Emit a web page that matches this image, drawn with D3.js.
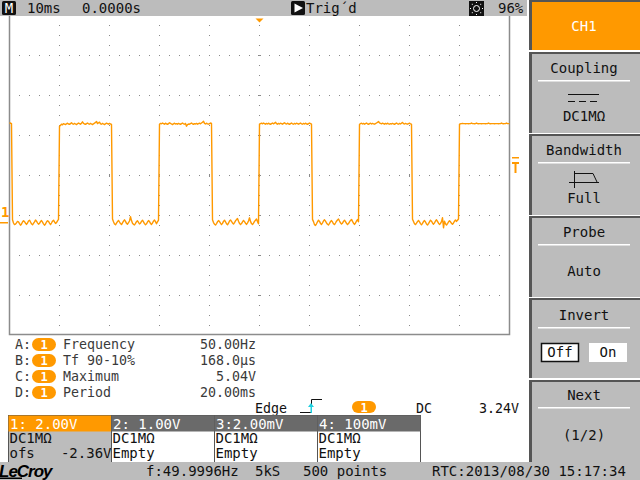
<!DOCTYPE html>
<html><head><meta charset="utf-8">
<script src="https://cdn.jsdelivr.net/npm/d3@7"></script>
<style>
body{margin:0;background:#fff;}
svg{display:block;}
text{font-family:"DejaVu Sans Mono","Liberation Mono",monospace;font-size:13.3px;}
</style>
</head><body>
<svg id="c" width="640" height="480"></svg>
<script>
// ---------- DATA ----------
const timebaseLabel = "10ms";
const delayLabel = "0.0000s";
const trigStateLabel = "Trig´d";
const brightnessLabel = "96%";
const msPerDiv = 10;
const voltsPerDiv = 2.0;
const offsetVolts = -2.36;
const sampleMs = 0.2;
const startMs = -50;
const trigLevelVolts = 3.24;

// trace samples (V), segment by segment
const seg0High = [4.95, 4.96, 4.93];
const seg1Low = [
 0.12,-0.04,-0.12,-0.10,-0.03, 0.04, 0.02,-0.07,-0.15,-0.09,
 0.01, 0.07, 0.03,-0.05,-0.11,-0.04, 0.06, 0.10, 0.01,-0.08,
-0.13,-0.06, 0.02, 0.11, 0.05,-0.03,-0.10,-0.06, 0.03, 0.08,
 0.00,-0.08,-0.15,-0.09, 0.01, 0.07, 0.04,-0.05,-0.12,-0.04,
 0.05, 0.10, 0.02,-0.06,-0.02, 0.07, 0.14];
const seg2High = [
 4.80, 4.84, 4.90, 4.87, 4.93, 4.90, 4.88, 4.92, 4.95, 4.91,
 4.89, 4.93, 4.97, 4.92, 4.90, 4.94, 4.91, 4.88, 4.92, 4.96,
 4.93, 4.90, 4.95, 5.02, 4.94, 4.91, 4.89, 4.93, 4.96, 4.92,
 4.90, 4.94, 4.91, 4.88, 4.92, 4.95, 4.99, 5.04, 4.93, 4.97,
 5.00, 4.92, 4.90, 4.94, 4.91, 4.88, 4.92, 4.95, 4.93, 4.90,
 4.94, 4.91, 4.89];
const seg3Low = [
 0.16, 0.02,-0.09,-0.13,-0.05, 0.03, 0.09, 0.01,-0.07,-0.12,
-0.03, 0.05, 0.12, 0.04,-0.06,-0.10,-0.02, 0.06, 0.28, 0.08,
-0.05,-0.11,-0.14,-0.06, 0.03, 0.07,-0.01,-0.09,-0.05, 0.04,
 0.10, 0.02,-0.07,-0.13,-0.08, 0.01, 0.08, 0.03,-0.06,-0.11,
-0.04, 0.05, 0.11, 0.03,-0.08, 0.02, 0.10];
const seg4High = [
 4.90, 4.94, 4.92, 4.96, 4.93, 4.90, 4.95, 4.92, 4.89, 4.93,
 4.97, 4.94, 4.91, 4.88, 4.92, 4.95, 4.91, 4.93, 4.90, 4.94,
 4.92, 4.89, 4.93, 4.96, 4.92, 4.90, 4.94, 4.80, 4.88, 4.91,
 4.90, 4.93, 4.96, 4.92, 4.89, 4.93, 4.91, 4.94, 4.90, 4.93,
 4.95, 4.92, 4.96, 5.00, 5.05, 4.94, 4.91, 4.95, 4.92, 4.90,
 4.93, 4.96, 4.94];
const seg5Low = [
 0.12,-0.02,-0.10,-0.14,-0.07, 0.02, 0.08, 0.03,-0.05,-0.12,
-0.06, 0.04, 0.10, 0.02,-0.08,-0.13,-0.05, 0.06, 0.11, 0.04,
-0.04,-0.09,-0.02, 0.07, 0.13, 0.18, 0.05,-0.06,-0.12,-0.07,
 0.02, 0.09, 0.03,-0.05,-0.11,-0.03, 0.06, 0.22, 0.04,-0.07,
-0.12,-0.05, 0.04, 0.10, 0.16, 0.03,-0.08];
const seg6High = [
 4.90, 4.93, 4.95, 4.92, 4.96, 4.93, 4.90, 4.94, 4.91, 4.95,
 4.92, 4.89, 4.93, 4.96, 4.92, 4.95, 5.00, 4.93, 4.90, 4.94,
 4.91, 4.95, 4.93, 4.90, 4.94, 4.97, 4.93, 4.91, 4.95, 4.92,
 4.89, 4.93, 4.96, 4.92, 4.90, 4.94, 4.91, 4.95, 4.93, 4.90,
 4.93, 4.96, 4.92, 4.90, 4.94, 4.91, 4.95, 4.92, 4.89, 4.93,
 4.96, 4.93, 4.90];
const seg7Low = [
 0.14, 0.03,-0.12,-0.16,-0.08, 0.02, 0.10, 0.04,-0.06,-0.11,
-0.03, 0.06, 0.12, 0.05,-0.04,-0.10,-0.14,-0.06, 0.03, 0.08,
 0.01,-0.08,-0.12,-0.04, 0.05, 0.11, 0.16, 0.06,-0.03,-0.09,
-0.05, 0.04, 0.10, 0.03,-0.06,-0.12,-0.07, 0.02, 0.09, 0.14,
 0.04,-0.05,-0.11,-0.04, 0.06, 0.13, 0.02];
const seg8High = [
 4.88, 4.93, 4.95, 4.91, 4.94, 4.90, 4.93, 4.96, 4.92, 4.89,
 4.93, 4.95, 4.91, 4.94, 4.92, 4.90, 4.93, 4.96, 4.99, 5.04,
 4.97, 4.94, 4.92, 4.95, 4.93, 4.90, 4.94, 4.91, 4.95, 4.92,
 4.90, 4.93, 4.91, 4.94, 4.92, 4.89, 4.93, 4.96, 4.92, 4.90,
 4.94, 4.91, 4.95, 4.99, 4.93, 4.91, 4.94, 4.92, 4.90, 4.93,
 4.95, 4.92, 4.90];
const seg9Low = [
 0.15, 0.04,-0.08,-0.12,-0.05, 0.03, 0.09, 0.02,-0.07,-0.13,
-0.06, 0.03, 0.08, 0.01,-0.09,-0.14,-0.07, 0.02, 0.10, 0.05,
-0.04,-0.10,-0.03, 0.06, 0.12, 0.04,-0.05,-0.11,-0.06, 0.03,
 0.22,-0.28, 0.05,-0.08,-0.14,-0.07, 0.01, 0.07, 0.02,-0.06,
-0.10,-0.04, 0.05, 0.11, 0.04, 0.10, 0.16];
const seg10High = [
 4.90, 4.92, 4.93, 4.94, 4.93, 4.93, 4.92, 4.93, 4.93, 4.92,
 4.93, 4.93, 4.96, 4.93, 4.93, 4.92, 4.93, 4.96, 4.93, 4.92,
 4.93, 4.93, 4.92, 4.93, 4.93, 4.93, 4.92, 4.93, 4.93, 4.96,
 4.93, 4.92, 4.93, 4.93, 4.93, 4.92, 4.93, 4.93, 4.93, 4.92,
 4.93, 4.93, 4.96, 4.93, 4.92, 4.93, 4.93, 4.96, 4.93, 4.93,
 4.93];
const traceVolts = [].concat(seg0High, seg1Low, seg2High, seg3Low, seg4High,
  seg5Low, seg6High, seg7Low, seg8High, seg9Low, seg10High);

const measLetters = ["A", "B", "C", "D"];
const measNames = ["Frequency", "Tf 90-10%", "Maximum", "Period"];
const measValues = ["50.00Hz", "168.0µs", "5.04V", "20.00ms"];

const chanHeaders = ["1: 2.00V", "2: 1.00V", "3:2.00mV", "4: 100mV"];
const chanCoupling = ["DC1MΩ", "DC1MΩ", "DC1MΩ", "DC1MΩ"];
const chanLine3 = ["ofs", "Empty", "Empty", "Empty"];
const chanOfsValue = ["-2.36V", "", "", ""];

const trigType = "Edge", trigCoupling = "DC", trigLevelLabel = "3.24V";

const menuChannel = "CH1";
const menuTitles = ["Coupling", "Bandwidth", "Probe", "Invert", "Next"];
const menuValues = ["DC1MΩ", "Full", "Auto", "", "(1/2)"];
const invertOptions = ["Off", "On"];

const statusFreq = "f:49.9996Hz", statusRate = "5kS", statusPoints = "500 points",
      statusRtc = "RTC:2013/08/30 15:17:34", brandLabel = "LeCroy";

// ---------- DRAW ----------
const ORANGE = "#ff9900", PANEL = "#bcbcbc", DARK = "#555", GRIDC = "#8a8a8a";
const svg = d3.select("#c");
const pL = 9, pR = 509, pT = 15, pB = 335;
const divsX = 10, divsY = 8;
const centerV = -offsetVolts;
const x = d3.scaleLinear().domain([-msPerDiv*divsX/2, msPerDiv*divsX/2]).range([pL, pR]);
const y = d3.scaleLinear().domain([centerV - voltsPerDiv*divsY/2, centerV + voltsPerDiv*divsY/2]).range([pB, pT]);

svg.append("rect").attr("width",640).attr("height",480).attr("fill","#fff");

// grid
const g = svg.append("g");
const xMajor = d3.range(-msPerDiv*divsX/2 + msPerDiv, msPerDiv*divsX/2, msPerDiv);
const yMajor = d3.range(1, divsY).map(k => centerV - voltsPerDiv*divsY/2 + k*voltsPerDiv);
const yMinor = d3.range(1, divsY*4).map(k => centerV - voltsPerDiv*divsY/2 + k*voltsPerDiv/4);
const xMinor = d3.range(1, divsX*5).map(k => -msPerDiv*divsX/2 + k*msPerDiv/5);
const dots = [];
xMajor.forEach(t => yMinor.forEach(v => dots.push([Math.round(x(t)), Math.round(y(v))])));
yMajor.forEach(v => xMinor.forEach(t => dots.push([Math.round(x(t)), Math.round(y(v))])));
g.selectAll("rect.dot").data(dots).join("rect").attr("class","dot")
  .attr("x", d => d[0]).attr("y", d => d[1]).attr("width",1).attr("height",1).attr("fill", GRIDC);
// center-line ticks
const cy = Math.round(y(centerV)), cx = Math.round(x(0));
g.selectAll("rect.tx").data(xMajor).join("rect").attr("class","tx")
  .attr("x", t => Math.round(x(t))).attr("y", cy-1).attr("width",1).attr("height",3).attr("fill",GRIDC);
g.selectAll("rect.ty").data(yMajor).join("rect").attr("class","ty")
  .attr("x", cx-1).attr("y", v => Math.round(y(v))).attr("width",3).attr("height",1).attr("fill",GRIDC);
// frame
svg.append("path").attr("d", `M${pL+0.5},${pT}V${pB-0.5}H${pR+0.5}V${pT}`)
  .attr("fill","none").attr("stroke","#8c8c8c").attr("stroke-width",1.5);

// trace
const line = d3.line().x((d,i) => x(startMs + i*sampleMs) + 0.5).y(d => y(d));
svg.append("path").datum(traceVolts).attr("d", line).attr("fill","none")
  .attr("stroke", ORANGE).attr("stroke-width", 1.4).attr("stroke-linejoin","round");

// ground marker
const gy = y(0);
svg.append("text").attr("x",1).attr("y",gy-5).attr("fill",ORANGE)
  .style("font-size","14px").style("font-weight","bold").text("1");
svg.append("rect").attr("x",0).attr("y",Math.round(gy)).attr("width",8).attr("height",1.5).attr("fill",ORANGE);
// trigger level marker
const ty = Math.round(y(trigLevelVolts));
svg.append("rect").attr("x",512).attr("y",ty).attr("width",7).attr("height",1.5).attr("fill",ORANGE);
svg.append("rect").attr("x",512).attr("y",ty+5).attr("width",7).attr("height",2).attr("fill",ORANGE);
svg.append("rect").attr("x",514.5).attr("y",ty+5).attr("width",2).attr("height",11).attr("fill",ORANGE);
// trigger position marker
svg.append("path").attr("d", `M${cx-3.5},18.5h8l-4,4z`).attr("fill",ORANGE);

// header bar
svg.append("rect").attr("x",0).attr("y",0).attr("width",527).attr("height",16).attr("fill",PANEL);
svg.append("rect").attr("x",2).attr("y",1).attr("width",14).attr("height",14).attr("rx",1.5).attr("fill","#111");
svg.append("text").attr("x",9).attr("y",13).attr("text-anchor","middle").attr("fill","#fff").style("font-size","14px").text("M");
svg.append("text").attr("x",27).attr("y",13).attr("fill","#111").style("font-size","14px").text(timebaseLabel);
svg.append("text").attr("x",82).attr("y",13).attr("fill","#111").style("font-size","14px").text(delayLabel);
svg.append("rect").attr("x",291).attr("y",1).attr("width",14).attr("height",14).attr("rx",1.5).attr("fill","#111");
svg.append("path").attr("d","M294.5,3.5L303,8L294.5,12.5Z").attr("fill","#fff");
svg.append("text").attr("x",306).attr("y",13).attr("fill","#111").style("font-size","14px").text(trigStateLabel);
svg.append("rect").attr("x",469).attr("y",1).attr("width",15).attr("height",15).attr("fill","#111");
svg.append("circle").attr("cx",476.5).attr("cy",8.5).attr("r",3).attr("fill","none").attr("stroke","#fff");
[[0,-6],[0,6],[-6,0],[6,0],[-4.2,-4.2],[4.2,4.2],[-4.2,4.2],[4.2,-4.2]].forEach(p =>
  svg.append("rect").attr("x",476+p[0]).attr("y",8+p[1]).attr("width",1).attr("height",1).attr("fill","#fff"));
svg.append("text").attr("x",498).attr("y",13).attr("fill","#111").style("font-size","14px").text(brightnessLabel);

// measurements
const mg = svg.append("g");
measLetters.forEach((L, i) => {
  const by = 349 + i*16;
  mg.append("text").attr("x",15).attr("y",by).attr("fill","#3a3a3a").text(L + ":");
  mg.append("rect").attr("x",32).attr("y",by-11).attr("width",24).attr("height",13).attr("rx",6.5).attr("fill",ORANGE);
  mg.append("text").attr("x",44).attr("y",by).attr("text-anchor","middle").attr("fill","#fff")
    .style("font-size","12px").style("font-weight","bold").text("1");
  mg.append("text").attr("x",63).attr("y",by).attr("fill","#3a3a3a").text(measNames[i]);
  mg.append("text").attr("x",256).attr("y",by).attr("text-anchor","end").attr("fill","#3a3a3a").text(measValues[i]);
});

// trigger info row
const ey = 413;
svg.append("text").attr("x",255).attr("y",ey).attr("fill","#111").text(trigType);
svg.append("path").attr("d",`M300,${ey-0.5}H311.5V${ey-13.5}H322`).attr("fill","none").attr("stroke","#111").attr("stroke-width",1);
svg.append("path").attr("d",`M311,${ey-10}l3,4h-6z`).attr("fill","#1fd0e0");
svg.append("rect").attr("x",310.5).attr("y",ey-7).attr("width",1.5).attr("height",7).attr("fill","#1fd0e0");
svg.append("rect").attr("x",352).attr("y",ey-12).attr("width",24).attr("height",12).attr("rx",6).attr("fill",ORANGE);
svg.append("text").attr("x",364).attr("y",ey-1).attr("text-anchor","middle").attr("fill","#fff")
  .style("font-size","12px").style("font-weight","bold").text("1");
svg.append("text").attr("x",416).attr("y",ey).attr("fill","#111").text(trigCoupling);
svg.append("text").attr("x",519).attr("y",ey).attr("text-anchor","end").attr("fill","#111").text(trigLevelLabel);

// channel boxes
const boxX = [8.5, 111.5, 214.5, 317.5], boxW = 103;
chanHeaders.forEach((h, i) => {
  const bx = boxX[i];
  svg.append("rect").attr("x",bx).attr("y",415.5).attr("width",boxW).attr("height",47)
    .attr("fill", i === 0 ? PANEL : "#fff").attr("stroke",DARK).attr("stroke-width",1);
  svg.append("rect").attr("x",bx).attr("y",415.5).attr("width",boxW).attr("height",16)
    .attr("fill", i === 0 ? ORANGE : "#6a6a6a");
  svg.append("text").attr("x",bx+1.5).attr("y",428.5).attr("fill","#fff").style("font-size","14px").text(h);
  svg.append("text").attr("x",bx+1).attr("y",443).attr("fill","#111").style("font-size","14px").text(chanCoupling[i]);
  svg.append("text").attr("x",bx+1).attr("y",458).attr("fill","#111").style("font-size","14px").text(chanLine3[i]);
  if (chanOfsValue[i]) svg.append("text").attr("x",bx+boxW).attr("y",458).attr("text-anchor","end")
    .attr("fill","#111").style("font-size","14px").text(chanOfsValue[i]);
});

// status bar
svg.append("rect").attr("x",0).attr("y",462).attr("width",640).attr("height",18).attr("fill",PANEL);
svg.append("text").attr("x",-1).attr("y",477).attr("fill","#000")
  .style("font-family","'Liberation Sans',Arial,sans-serif").style("font-size","17px")
  .style("font-weight","bold").style("font-style","italic").style("letter-spacing","-1px").text(brandLabel);
svg.append("rect").attr("x",0).attr("y",477.5).attr("width",22).attr("height",1.5).attr("fill","#000");
svg.append("text").attr("x",146).attr("y",476).attr("fill","#111").style("font-size","14px").text(statusFreq);
svg.append("text").attr("x",255).attr("y",476).attr("fill","#111").style("font-size","14px").text(statusRate);
svg.append("text").attr("x",303).attr("y",476).attr("fill","#111").style("font-size","14px").text(statusPoints);
svg.append("text").attr("x",432).attr("y",476).attr("fill","#111").style("font-size","14px").text(statusRtc);

// right menu panel
const pcx = 584;
function panelBox(y0, y1, fill) {
  svg.append("rect").attr("x",529).attr("y",y0).attr("width",111).attr("height",y1-y0).attr("fill",fill);
  svg.append("rect").attr("x",529).attr("y",y0).attr("width",111).attr("height",2).attr("fill",DARK);
  svg.append("rect").attr("x",529).attr("y",y0).attr("width",3).attr("height",y1-y0).attr("fill",DARK);
}
svg.append("rect").attr("x",527).attr("y",0).attr("width",113).attr("height",462).attr("fill","#fff");
panelBox(0, 50, ORANGE);
svg.append("text").attr("x",pcx).attr("y",31).attr("text-anchor","middle").attr("fill","#fff").style("font-size","14px").text(menuChannel);
const menuTop = [52, 134, 216, 298, 380], menuBot = [133, 215, 297, 378, 462];
const titleBase = [73, 155, 237, 320, 400], valueBase = [121, 203, 276, 0, 440];
menuTitles.forEach((t, i) => {
  panelBox(menuTop[i], menuBot[i], PANEL);
  svg.append("text").attr("x",pcx).attr("y",titleBase[i]).attr("text-anchor","middle").attr("fill","#111").style("font-size","14px").text(t);
  svg.append("rect").attr("x",538).attr("y",titleBase[i]+7).attr("width",92).attr("height",1.5).attr("fill","#fff");
  if (menuValues[i]) svg.append("text").attr("x",pcx).attr("y",valueBase[i]).attr("text-anchor","middle")
    .attr("fill","#111").style("font-size","14px").text(menuValues[i]);
});
// coupling symbol
svg.append("path").attr("d","M568,94.5H599").attr("stroke","#111").attr("stroke-width",1);
svg.append("path").attr("d","M568,101.5H599").attr("stroke","#111").attr("stroke-width",1).attr("stroke-dasharray","7,4");
// bandwidth symbol
svg.append("path").attr("d","M574.5,171V188M569,182.5H599M574.5,173.5H593L597,182").attr("fill","none").attr("stroke","#111").attr("stroke-width",1);
// invert options
svg.append("rect").attr("x",541.5).attr("y",343.5).attr("width",37).attr("height",18).attr("fill","#fff").attr("stroke","#111").attr("stroke-width",1.5);
svg.append("rect").attr("x",589).attr("y",343).attr("width",38).attr("height",19).attr("fill","#fff");
svg.append("text").attr("x",560).attr("y",357).attr("text-anchor","middle").attr("fill","#111").style("font-size","14px").text(invertOptions[0]);
svg.append("text").attr("x",608).attr("y",357).attr("text-anchor","middle").attr("fill","#111").style("font-size","14px").text(invertOptions[1]);
</script>
</body></html>
